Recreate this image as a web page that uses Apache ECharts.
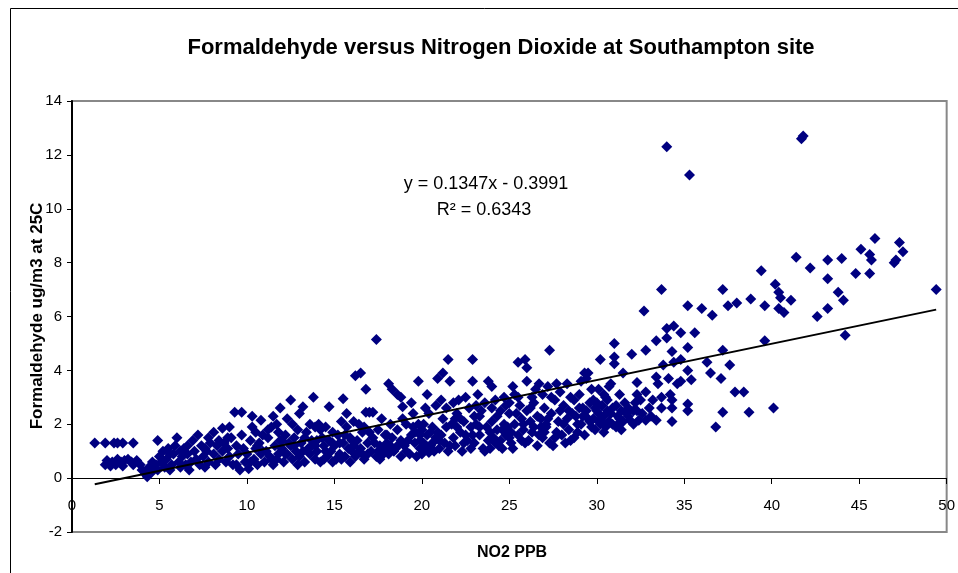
<!DOCTYPE html>
<html>
<head>
<meta charset="utf-8">
<script src="https://cdn.jsdelivr.net/npm/echarts@6/dist/echarts.min.js"></script>
<style>
  html, body { margin: 0; padding: 0; background: #fff; }
  #chart { width: 958px; height: 573px; }
</style>
</head>
<body>
<div id="chart"></div>
<script>
// NO2 (ppb), formaldehyde (ug/m3) pairs, grouped by NO2 band
const band00to05 = [
  [1.3,1.3],[1.9,1.3],[2.4,1.3],[2.6,1.3],[2.9,1.3],[3.5,1.3],
  [1.9,0.5],[2.0,0.65],[2.2,0.45],[2.3,0.6],[2.5,0.5],[2.6,0.7],[2.8,0.6],[2.9,0.45],[3.0,0.65],
  [3.2,0.7],[3.4,0.6],[3.5,0.5],[3.7,0.65],[3.9,0.5],
  [4.0,0.3],[4.2,0.15],[4.3,0.05],[4.4,0.4],[4.6,0.25],[4.6,0.6],[4.8,0.5],[4.9,0.3],[4.9,1.4]
];
const band05to10 = [
  [5.0,0.8],[5.1,0.6],[5.2,1.0],[5.3,0.4],[5.4,0.7],[5.5,1.1],[5.6,0.3],[5.7,0.5],[5.8,0.9],[5.9,1.2],
  [6.0,1.5],[6.1,0.6],[6.2,0.4],[6.2,1.0],[6.3,0.8],[6.4,1.1],[6.5,0.5],[6.6,0.9],[6.7,0.3],[6.8,0.6],
  [6.9,1.4],[7.0,1.0],[7.1,0.7],[7.2,1.6],[7.3,0.5],[7.4,1.2],[7.5,0.8],[7.6,0.4],[7.7,1.0],[7.8,0.6],
  [7.8,1.5],[7.9,1.3],[8.1,1.7],[8.1,0.9],[8.2,0.5],[8.3,1.2],[8.4,0.7],[8.4,1.4],[8.6,1.85],[8.6,1.0],
  [8.7,1.3],[8.8,0.6],[8.9,1.1],[9.0,1.9],[9.0,0.8],[9.1,1.5],[9.2,0.5],[9.3,2.45],[9.4,1.2],[9.5,0.9],
  [9.6,0.3],[9.7,2.45],[9.7,1.6],[9.8,1.1],[9.9,0.6],[5.6,0.9],[6.6,1.2],[7.6,1.1],[8.9,1.5],[9.4,0.5]
];
const band10to15 = [
  [10.1,0.35],[10.0,0.9],[10.2,1.4],[10.3,2.3],[10.4,0.7],[10.5,1.1],[10.5,1.7],[10.6,0.5],[10.7,1.3],[10.8,2.15],
  [10.8,0.9],[10.9,1.6],[10.3,1.9],[10.6,1.2],
  [11.0,0.6],[11.1,1.0],[11.2,1.5],[11.3,0.8],[11.4,1.9],[11.5,2.3],[11.5,0.5],[11.6,1.2],[11.7,2.0],[11.8,0.9],
  [11.9,2.6],[11.9,1.4],[11.2,1.8],[11.7,0.7],
  [12.0,1.1],[12.1,0.6],[12.2,1.6],[12.3,0.9],[12.4,1.3],[12.5,2.9],[12.6,0.7],[12.6,2.0],[12.7,1.5],[12.8,1.0],
  [12.9,1.8],[12.9,0.5],[12.3,2.2],[12.5,1.2],
  [13.0,2.4],[13.0,0.8],[13.1,1.3],[13.2,2.65],[13.3,0.6],[13.4,1.7],[13.5,1.1],[13.6,2.0],[13.6,0.9],[13.7,1.4],
  [13.8,3.0],[13.9,0.7],[13.9,1.9],[13.3,1.5],[13.7,1.2],
  [14.0,1.0],[14.1,2.0],[14.2,0.6],[14.3,1.5],[14.4,1.2],[14.5,1.9],[14.6,0.8],[14.7,2.65],[14.7,1.4],[14.8,1.0],
  [14.9,1.7],[14.4,0.7],[14.2,1.8],[14.9,0.6]
];
const band15to20 = [
  [15.0,1.2],[15.1,0.7],[15.2,1.6],[15.3,0.9],[15.4,2.1],[15.5,2.95],[15.5,1.3],[15.6,0.8],[15.7,1.9],[15.8,1.1],
  [15.9,1.5],[15.9,0.6],[15.3,1.3],[15.7,2.4],[16.0,1.0],
  [16.1,2.1],[16.2,3.8],[16.2,0.8],[16.3,1.4],[16.4,2.0],[16.5,3.9],[16.5,1.1],[16.6,1.7],[16.7,0.7],[16.8,3.3],
  [16.8,2.45],[16.9,1.3],[16.9,0.9],[16.4,1.0],[16.7,1.9],
  [17.0,2.45],[17.1,1.0],[17.2,2.45],[17.2,1.5],[17.4,5.15],[17.4,0.8],[17.5,1.8],[17.6,1.2],[17.7,2.2],[17.8,0.9],
  [17.9,1.6],[17.9,1.1],[17.3,1.3],[17.6,0.7],
  [18.0,1.3],[18.1,3.5],[18.1,0.9],[18.2,2.0],[18.3,3.3],[18.3,1.5],[18.5,1.1],[18.6,3.1],[18.6,1.8],[18.8,3.0],
  [18.8,0.8],[18.8,1.4],[18.9,2.65],[18.9,2.2],[18.4,1.0],
  [19.0,1.2],[19.1,2.0],[19.2,1.4],[19.3,0.9],[19.4,2.8],[19.4,1.6],[19.5,2.4],[19.6,1.3],[19.7,0.8],[19.8,3.6],
  [19.8,2.0],[19.9,1.1],[19.5,1.9],[19.9,1.6]
];
const band20to25 = [
  [19.9,1.4],[20.0,0.9],[20.1,2.0],[20.2,1.1],[20.3,3.1],[20.3,1.6],[20.4,2.4],[20.5,1.2],[20.6,1.9],[20.7,1.0],
  [20.8,2.7],[20.8,1.5],[20.2,2.6],[20.6,1.3],[20.4,0.95],
  [20.9,3.7],[20.9,1.7],[21.0,1.1],[21.1,2.9],[21.2,2.2],[21.2,3.9],[21.3,1.3],[21.4,2.6],[21.5,4.4],[21.5,1.0],
  [21.6,3.6],[21.7,2.0],[21.8,1.5],[21.8,2.8],[21.1,1.6],[21.4,1.9],
  [21.9,1.2],[22.0,2.4],[22.1,2.9],[22.2,1.7],[22.3,1.0],[22.4,2.1],[22.5,3.0],[22.6,1.4],[22.7,2.6],[22.8,1.9],
  [22.8,1.1],[22.2,2.2],[22.5,1.6],[22.9,4.4],
  [22.9,3.6],[23.0,1.3],[23.1,2.0],[23.2,3.1],[23.3,1.6],[23.4,2.5],[23.5,1.1],[23.6,2.8],[23.7,1.9],[23.8,3.6],
  [23.8,1.4],[23.3,2.3],[23.6,1.0],[23.1,2.7],
  [23.9,1.1],[24.0,3.4],[24.0,2.1],[24.1,1.5],[24.2,2.9],[24.3,1.8],[24.4,1.2],[24.5,2.5],[24.6,1.1],[24.7,2.0],
  [24.7,3.0],[24.8,1.6],[24.3,2.3],[24.5,1.4],[24.8,2.7]
];
const band25to30 = [
  [24.9,1.9],[25.0,2.4],[25.1,1.3],[25.2,3.4],[25.2,1.1],[25.3,3.1],[25.3,2.0],[25.5,4.3],[25.5,1.6],[25.6,2.7],
  [25.7,1.4],[25.7,2.2],[25.1,1.7],[25.5,3.0],[25.0,2.8],
  [25.8,1.8],[25.9,4.4],[26.0,4.1],[26.0,3.6],[26.1,1.4],[26.2,2.6],[26.3,3.0],[26.4,1.9],[26.5,3.3],[26.6,1.2],
  [26.6,2.3],[26.7,3.5],[26.7,1.6],[26.2,2.1],[26.4,2.8],[25.9,1.3],
  [26.8,2.2],[26.9,3.1],[26.9,1.5],[27.0,2.6],[27.1,1.9],[27.3,4.75],[27.2,3.4],[27.3,1.3],[27.4,2.4],[27.5,1.2],
  [27.6,2.9],[27.7,3.5],[27.7,1.7],[27.1,2.0],[27.4,3.0],
  [27.8,2.1],[27.9,3.2],[28.0,1.6],[28.1,2.7],[28.2,1.3],[28.3,3.5],[28.3,2.2],[28.4,1.8],[28.5,3.0],[28.6,2.4],
  [28.7,1.5],[28.7,2.9],[28.1,2.0],[28.5,1.4],
  [28.8,2.3],[28.9,1.7],[29.0,3.1],[29.1,3.6],[29.1,2.0],[29.2,2.6],[29.3,3.9],[29.3,1.6],[29.4,3.7],[29.5,2.2],
  [29.5,3.9],[29.6,2.8],[29.7,1.9],[29.7,3.3],[29.2,2.3],[29.4,2.5]
];
const band30to35 = [
  [29.8,2.2],[29.8,2.9],[29.9,1.8],[30.0,2.5],[30.1,3.3],[30.2,4.4],[30.2,2.0],[30.3,2.7],[30.4,2.3],[30.5,3.0],
  [30.5,1.9],[30.6,2.5],[30.7,2.1],[30.7,3.4],[30.8,3.5],[30.0,2.8],[30.3,2.1],[30.6,2.9],[30.1,2.4],[30.4,1.7],
  [30.8,2.4],[30.9,2.0],[31.0,5.0],[31.0,4.5],[31.0,4.25],[31.1,1.9],[31.1,2.7],[31.2,2.3],[31.3,3.1],[31.4,2.5],
  [31.5,3.9],[31.5,2.1],[31.6,2.8],[31.7,2.4],[31.2,2.0],[31.4,1.8],
  [31.8,2.3],[31.9,2.15],[32.0,4.6],[32.1,2.5],[32.3,3.55],[32.3,3.1],[32.3,2.5],[32.4,2.15],[32.5,2.9],[32.7,6.2],
  [32.6,2.4],[32.8,4.75],[32.8,3.2],[32.8,2.15],[32.2,2.8],
  [33.0,2.6],[33.2,2.9],[33.4,5.1],[33.4,3.75],[33.5,3.5],[33.4,2.15],[33.7,7.0],[33.7,3.0],[33.7,2.6],[33.8,4.2],
  [34.0,12.3],[33.1,2.3],
  [34.0,5.55],[34.0,5.2],[34.4,5.65],[34.3,2.1],[34.3,2.6],[34.3,2.9],[34.3,4.7],[34.4,4.3],[34.8,5.4],[34.8,4.4],
  [34.8,3.6],[34.1,3.7],[34.6,3.5],[34.2,3.1]
];
const band35to50 = [
  [35.3,11.25],[35.2,6.4],[35.2,4.85],[35.2,4.0],[35.4,3.65],[35.2,2.75],[35.2,2.5],[35.6,5.4],[36.0,6.3],[36.3,4.3],
  [36.5,3.9],[36.6,6.05],[36.8,1.9],[37.1,3.7],[37.2,7.0],[37.2,4.75],[37.2,2.45],[37.5,6.4],[37.6,4.2],[37.9,3.2],
  [38.0,6.5],[38.4,3.2],[38.7,2.45],[38.8,6.65],[39.4,7.7],[39.6,6.4],[39.6,5.1],
  [40.1,2.6],[40.2,7.2],[40.4,6.9],[40.5,6.7],[40.4,6.3],[40.7,6.15],[41.1,6.6],[41.4,8.2],[41.7,12.6],[41.8,12.7],
  [42.2,7.8],[42.6,6.0],[43.2,8.1],[43.2,7.4],[43.2,6.3],[43.8,6.9],[44.0,8.15],[44.1,6.6],[44.2,5.3],[44.8,7.6],
  [45.1,8.5],[45.6,8.3],[45.7,8.1],[45.6,7.6],[45.9,8.9],[47.0,8.0],[47.1,8.1],[47.3,8.75],[47.5,8.4],[49.4,7.0]
];
// extra readings inside the solid-looking core of the cloud
const denseCore = [
  [10.2,0.6],[10.9,1.0],[11.4,0.7],[11.8,1.7],[12.2,0.9],[12.7,1.2],[13.2,1.0],[13.9,1.2],[14.5,1.0],[14.9,1.3],
  [15.4,0.7],[15.6,1.6],[16.1,1.2],[16.6,0.9],[17.0,1.7],[17.5,1.0],[18.0,1.6],[18.6,1.2],[19.1,1.0],[19.6,1.7],
  [20.1,1.3],[20.5,1.7],[21.0,1.4],[21.6,1.2],[21.9,2.2],[22.4,1.3],[22.9,1.6],[23.3,1.9],[23.9,1.7],[24.2,1.3],
  [24.6,1.8],[25.0,1.5],[25.4,2.4],[25.8,2.0],[26.3,1.7],[26.8,1.9],[27.2,2.2],[27.6,1.5],[27.9,2.5],[28.4,2.5],
  [28.9,2.0],[29.0,2.6],[29.6,2.1],[30.1,2.1],[30.9,2.6],[31.3,2.2],[31.8,2.6],[32.1,2.0],[26.0,2.5],[24.0,2.6],
  [22.0,1.9],[20.0,1.8],[18.2,1.2],[16.0,1.4],[14.0,1.4],[12.0,1.4],[23.0,2.3],[27.0,1.7],[29.9,2.6],[30.4,3.1]
];

// linear trendline as fitted in the original spreadsheet
const trendSlope = 0.1347;
const trendIntercept = -0.3991;
const trendRange = [1.3, 49.4];
const equationText = 'y = 0.1347x - 0.3991';
const rSquaredText = 'R\u00b2 = 0.6343';

const FONT = '"Liberation Sans", Arial, sans-serif';

const allPoints = [].concat(band00to05, band05to10, band10to15, band15to20,
  band20to25, band25to30, band30to35, band35to50, denseCore);
const trendPoints = trendRange.map(x => [x, trendSlope * x + trendIntercept]);

const chart = echarts.init(document.getElementById('chart'));

const option = {
  animation: false,
  backgroundColor: '#fff',
  grid: {
    left: 72, right: 5, top: 101, bottom: 41,
    show: true,
    borderColor: '#888',
    borderWidth: 2,
    backgroundColor: 'transparent'
  },
  xAxis: {
    type: 'value',
    min: 0, max: 50, interval: 5,
    // axis sits on y = 0, two units above the plot bottom
    offset: -54,
    axisLine: { onZero: false, lineStyle: { color: '#000', width: 1 } },
    axisTick: { show: true, length: 6, lineStyle: { color: '#000' } },
    axisLabel: { color: '#000', fontSize: 15, fontFamily: FONT, margin: 20 },
    splitLine: { show: false }
  },
  yAxis: {
    type: 'value',
    min: -2, max: 14, interval: 2,
    axisLine: { show: true, onZero: false, lineStyle: { color: '#000', width: 2 } },
    axisTick: { show: true, length: 5, lineStyle: { color: '#000' } },
    axisLabel: { color: '#000', fontSize: 15, fontFamily: FONT, margin: 10 },
    splitLine: { show: false }
  },
  series: [
    {
      type: 'scatter',
      data: allPoints,
      symbol: 'diamond',
      symbolSize: 11,
      itemStyle: { color: '#000080', opacity: 1 },
      z: 2
    },
    {
      type: 'line',
      data: trendPoints,
      symbol: 'none',
      lineStyle: { color: '#000', width: 2 },
      z: 3
    }
  ],
  graphic: [
    {
      type: 'rect',
      shape: { x: 10.5, y: 8.5, width: 960, height: 600 },
      style: { fill: 'none', stroke: '#000', lineWidth: 1 },
      silent: true
    },
    {
      type: 'text',
      x: 501, y: 48,
      style: {
        text: 'Formaldehyde versus Nitrogen Dioxide at Southampton site',
        font: 'bold 22px ' + FONT,
        fill: '#000', textAlign: 'center', textVerticalAlign: 'middle'
      }
    },
    {
      type: 'text',
      x: 37, y: 316,
      rotation: Math.PI / 2,
      style: {
        text: 'Formaldehyde ug/m3 at 25C',
        font: 'bold 17px ' + FONT,
        fill: '#000', textAlign: 'center', textVerticalAlign: 'middle'
      }
    },
    {
      type: 'text',
      x: 512, y: 553,
      style: {
        text: 'NO2 PPB',
        font: 'bold 16px ' + FONT,
        fill: '#000', textAlign: 'center', textVerticalAlign: 'middle'
      }
    },
    {
      type: 'text',
      x: 486, y: 184,
      style: {
        text: equationText,
        font: '18px ' + FONT,
        fill: '#000', textAlign: 'center', textVerticalAlign: 'middle'
      }
    },
    {
      type: 'text',
      x: 484, y: 210,
      style: {
        text: rSquaredText,
        font: '18px ' + FONT,
        fill: '#000', textAlign: 'center', textVerticalAlign: 'middle'
      }
    }
  ]
};

chart.setOption(option);
</script>
</body>
</html>
